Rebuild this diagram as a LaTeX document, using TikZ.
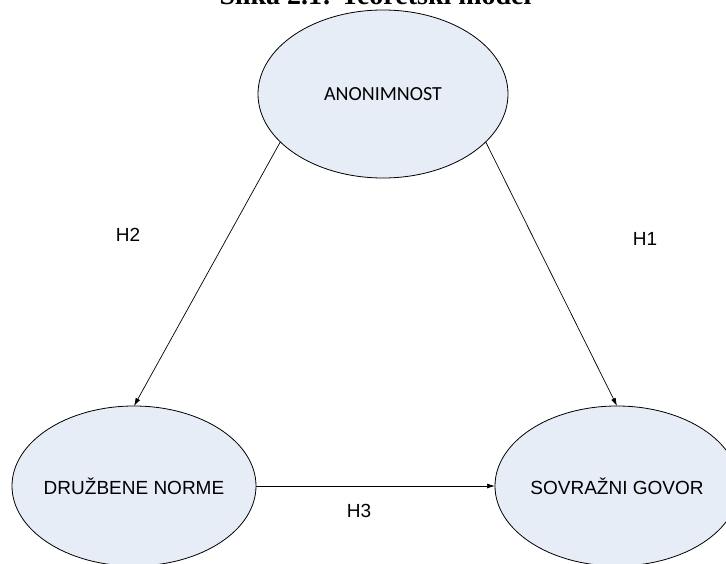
\documentclass[tikz,border=0pt]{standalone}
\usepackage{fontspec}
\setmainfont{Liberation Sans}
\newfontfamily\calibrifont{Carlito}
\newfontfamily\titlefont{Liberation Serif}
\usepackage{xcolor}
\usetikzlibrary{positioning, arrows.meta, shapes.geometric}

\definecolor{ellfill}{RGB}{231,237,247}
\tikzset{
  ell/.style={ellipse, draw, fill=ellfill, line width=0.8pt, inner sep=0pt, outer sep=0pt,
    minimum width=244pt, minimum height=160pt, font=\fontsize{19}{22}\selectfont},
  hyp/.style={font=\fontsize{19}{22}\selectfont},
  link/.style={line width=0.7pt, -{Latex[length=8pt,width=5pt]}}
}

\begin{document}
\begin{tikzpicture}[x=1pt, y=-1pt]
\useasboundingbox (0,0) rectangle (726,564);
\clip (0,0) rectangle (726,564);

\node[anchor=base, font=\titlefont\bfseries\fontsize{28}{32}\selectfont] (title) at (375.5,5) {Slika 2.1: Teoretski model};

\node(anon)[ell, minimum width=250pt, minimum height=168pt,
  label={[font=\calibrifont\fontsize{20}{24}\selectfont]center:ANONIMNOST}] at (383,94) {};
\node(norme)[ell, label={[hyp]center:DRUŽBENE NORME}] at (134,486) {};
\node(govor)[ell, right = 239pt of norme, label={[hyp]center:SOVRAŽNI GOVOR}] {};

\draw[link] (anon.205.9) -- (norme.north);
\draw[link] (anon.335) -- (govor.north);
\draw[link] (norme.east) -- (govor.west);

\node(h2)[hyp] at (128,235) {H2};
\node(h1)[hyp] at (645,239) {H1};
\node(h3)[hyp] at (359,511) {H3};
\end{tikzpicture}
\end{document}
